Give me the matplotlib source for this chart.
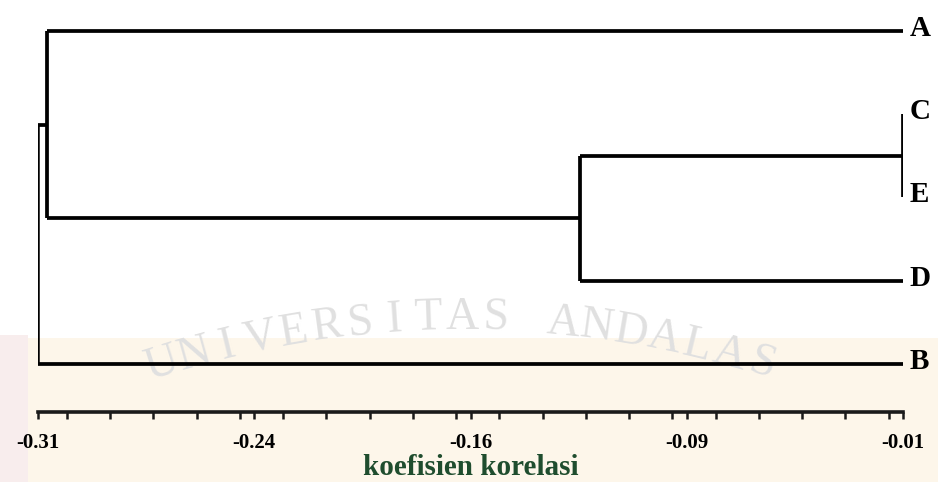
import numpy as np
import matplotlib
matplotlib.use("Agg")
import matplotlib.pyplot as plt
from matplotlib.ticker import MultipleLocator

# ---- data ----
leaves = ["A", "C", "E", "D", "B"]          # top to bottom order
# merges: (left child, right child, merge value)
merges = [
    ("C", "E", -0.010),
    ("CE", "D", -0.122),
    ("A", "CED", -0.307),
    ("ACED", "B", -0.310),
]
leaf_value = -0.010
major_ticks = [-0.31, -0.235, -0.16, -0.085, -0.01]
tick_labels = ["-0.31", "-0.24", "-0.16", "-0.09", "-0.01"]
minor_step = 0.015
xlabel = "koefisien korelasi"
watermark = "UNIVERSITAS ANDALAS"

fig = plt.figure(figsize=(9.38, 4.82), dpi=100)
fig.patch.set_facecolor("white")

# faint background tint (scan watermark)
bg = fig.add_axes([0, 0, 1, 1], zorder=0)
bg.set_xlim(0, 938); bg.set_ylim(482, 0); bg.axis("off")
bg.fill_between([0, 938], 338, 482, color="#fdf6ea", lw=0)
bg.fill_between([0, 28], 335, 482, color="#f8eded", lw=0)
# arched watermark text
cx, cy, r = 462, 1318, 1000
n = len(watermark)
half = np.rad2deg(np.arcsin(300 / r))
angles = np.linspace(-half, half, n)
for ch, a in zip(watermark, angles):
    if ch == " ":
        continue
    t = np.deg2rad(a)
    px = cx + r * np.sin(t)
    py = cy - r * np.cos(t)
    bg.text(px, py, ch, fontsize=33, family="Liberation Serif", color="#e0e0e0",
            rotation=-a, ha="center", va="center")

ax = fig.add_axes([38/938, (482-412)/482, 865/938, 412/482], zorder=1)
ax.patch.set_alpha(0)

pos = {name: (leaf_value, i) for i, name in enumerate(leaves)}
lw = 2.7
for a_name, b_name, val in merges:
    xa, ya = pos[a_name]
    xb, yb = pos[b_name]
    ax.plot([xa, val], [ya, ya], color="black", lw=lw, solid_capstyle="butt")
    ax.plot([xb, val], [yb, yb], color="black", lw=lw, solid_capstyle="butt")
    ax.plot([val, val], [ya, yb], color="black", lw=lw if val > -0.309 else 1.8,
            solid_capstyle="butt")
    pos[a_name + b_name] = (val, (ya + yb) / 2)

for i, name in enumerate(leaves):
    ax.text(-0.0078, i - 0.03, name, fontsize=21, fontweight="bold",
            family="Liberation Serif", ha="left", va="center", color="black")

ax.set_xlim(-0.31, -0.01)
ax.set_ylim(4.577, -0.372)
for s in ["top", "right", "left"]:
    ax.spines[s].set_visible(False)
ax.spines["bottom"].set_linewidth(2.6)
ax.spines["bottom"].set_color("#1a1a1a")
ax.set_yticks([])
ax.set_xticks(major_ticks)
ax.set_xticklabels(tick_labels, fontsize=15, fontweight="bold", family="Liberation Serif")
ax.xaxis.set_minor_locator(MultipleLocator(minor_step))
ax.tick_params(axis="x", which="both", direction="out", length=5, width=1.8,
               color="#1a1a1a", pad=10)
ax.set_xlabel(xlabel, fontsize=21, fontweight="bold", family="Liberation Serif",
              color="#1f4d2e", labelpad=0.5)

fig.savefig("out.png", dpi=100)
